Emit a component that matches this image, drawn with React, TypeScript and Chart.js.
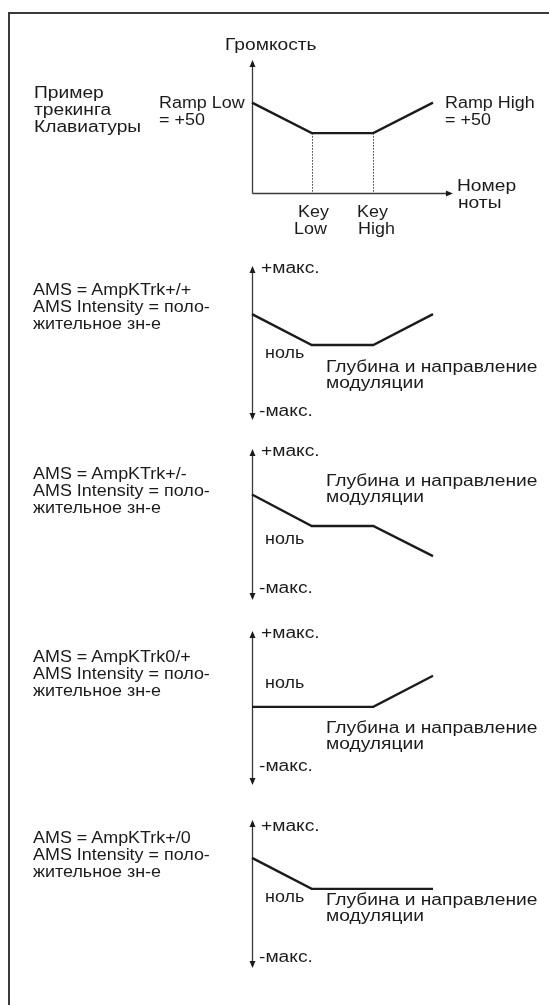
import React, { useEffect, useRef } from "react";
import { Chart, registerables } from "chart.js";

Chart.register(...registerables);

// ---------- data ----------
// key positions along the note-number axis: ramp start, Key Low, Key High, ramp end
const trackX = [0, 33, 67, 100];
const trackY = [68, 45, 45, 68]; // volume with Ramp Low = +50, Ramp High = +50

const plusPlusX = [0, 33, 67, 100];
const plusPlusY = [39, 0, 0, 39];

const plusMinusX = [0, 33, 67, 100];
const plusMinusY = [41, 0, 0, -39];

const zeroPlusX = [0, 67, 100];
const zeroPlusY = [0, 0, 41];

const plusZeroX = [0, 33, 100];
const plusZeroY = [45, 0, 0];

const keyLowX = 33;
const keyHighX = 67;

const amsNames = ["AmpKTrk+/+", "AmpKTrk+/-", "AmpKTrk0/+", "AmpKTrk+/0"];

// ---------- styles ----------
const FONT = '"Liberation Sans", Arial, Helvetica, sans-serif';
const INK = "#1b1b1b";
const AXIS = "#3a3a3a";
const W = 549;
const PLOT_L = 252;
const PLOT_R = 433;
const PAD = 10;
const BASE_SX = 1.12;
const WIDE = 1.2;

type Panel = {
  xs: number[];
  ys: number[];
  yMin: number;
  yMax: number;
  topPx: number;
  bottomPx: number;
  main?: boolean;
};

function arrow(ctx: CanvasRenderingContext2D, x: number, y: number, dir: "up" | "down" | "right") {
  const L = 7;
  const H = 3;
  ctx.beginPath();
  if (dir === "up") {
    ctx.moveTo(x, y);
    ctx.lineTo(x - H, y + L);
    ctx.lineTo(x + H, y + L);
  } else if (dir === "down") {
    ctx.moveTo(x, y);
    ctx.lineTo(x - H, y - L);
    ctx.lineTo(x + H, y - L);
  } else {
    ctx.moveTo(x, y);
    ctx.lineTo(x - L, y - H);
    ctx.lineTo(x - L, y + H);
  }
  ctx.closePath();
  ctx.fill();
}

const axesPlugin = {
  id: "arrowAxes",
  beforeDatasetsDraw(chart: any) {
    const ctx: CanvasRenderingContext2D = chart.ctx;
    const xs = chart.scales.x;
    const ys = chart.scales.y;
    const main = chart.options.plugins.arrowAxes?.main;
    ctx.save();
    ctx.strokeStyle = AXIS;
    ctx.fillStyle = INK;
    ctx.lineWidth = 1.3;
    const x0 = Math.round(xs.getPixelForValue(0)) + 0.5;
    if (main) {
      const yBase = Math.round(ys.getPixelForValue(0)) + 0.5;
      const yTop = ys.getPixelForValue(ys.max);
      const xEnd = xs.getPixelForValue(111);
      ctx.beginPath();
      ctx.moveTo(x0, yBase);
      ctx.lineTo(x0, yTop + 5);
      ctx.moveTo(x0, yBase);
      ctx.lineTo(xEnd - 5, yBase);
      ctx.stroke();
      arrow(ctx, x0, yTop, "up");
      arrow(ctx, xEnd, yBase, "right");
      // dotted guides at Key Low / Key High
      ctx.lineWidth = 1;
      ctx.setLineDash([1.5, 1.5]);
      const flat = chart.data.datasets[0].data[1].y;
      [keyLowX, keyHighX].forEach((k) => {
        const px = Math.round(xs.getPixelForValue(k)) + 0.5;
        ctx.beginPath();
        ctx.moveTo(px, ys.getPixelForValue(flat));
        ctx.lineTo(px, yBase);
        ctx.stroke();
      });
    } else {
      const yTop = ys.getPixelForValue(ys.max);
      const yBot = ys.getPixelForValue(ys.min);
      ctx.beginPath();
      ctx.moveTo(x0, yTop + 5);
      ctx.lineTo(x0, yBot - 5);
      ctx.stroke();
      arrow(ctx, x0, yTop, "up");
      arrow(ctx, x0, yBot, "down");
    }
    ctx.restore();
  },
};

function PanelChart({ p }: { p: Panel }) {
  const ref = useRef<HTMLCanvasElement>(null);
  const h = p.bottomPx - p.topPx + PAD * 2;
  useEffect(() => {
    const chart = new Chart(ref.current!, {
      type: "line",
      data: {
        datasets: [
          {
            data: p.xs.map((x, i) => ({ x, y: p.ys[i] })),
            borderColor: INK,
            borderWidth: 2.4,
            pointRadius: 0,
            tension: 0,
            fill: false,
            clip: false as any,
            borderJoinStyle: "miter",
          },
        ],
      },
      options: {
        animation: false,
        responsive: false,
        maintainAspectRatio: false,
        events: [],
        layout: { padding: { left: PLOT_L, right: W - PLOT_R, top: PAD, bottom: PAD } },
        scales: {
          x: { type: "linear", min: 0, max: 100, display: false },
          y: { type: "linear", min: p.yMin, max: p.yMax, display: false },
        },
        plugins: {
          legend: { display: false },
          tooltip: { enabled: false },
          arrowAxes: { main: !!p.main },
        } as any,
      },
      plugins: [axesPlugin],
    });
    return () => chart.destroy();
  }, []);
  return (
    <canvas
      ref={ref}
      width={W}
      height={h}
      style={{ position: "absolute", left: 0, top: p.topPx - PAD, width: W, height: h }}
    />
  );
}

function T({ x, y, sx = BASE_SX, children }: { x: number; y: number; sx?: number; children: React.ReactNode }) {
  return (
    <div
      style={{
        position: "absolute",
        left: x,
        top: y - 10,
        height: 20,
        lineHeight: "20px",
        fontSize: 16,
        fontFamily: FONT,
        color: INK,
        whiteSpace: "nowrap",
        transform: `scaleX(${sx})`,
        transformOrigin: "left center",
      }}
    >
      {children}
    </div>
  );
}

const panels: Panel[] = [
  { xs: trackX, ys: trackY, yMin: 0, yMax: 100, topPx: 60, bottomPx: 193, main: true },
  { xs: plusPlusX, ys: plusPlusY, yMin: -95, yMax: 100, topPx: 266, bottomPx: 420 },
  { xs: plusMinusX, ys: plusMinusY, yMin: -96, yMax: 100, topPx: 449, bottomPx: 600 },
  { xs: zeroPlusX, ys: zeroPlusY, yMin: -103, yMax: 100, topPx: 631, bottomPx: 785 },
  { xs: plusZeroX, ys: plusZeroY, yMin: -115, yMax: 100, topPx: 820, bottomPx: 968 },
];

// label rows: [amsY, plusMaxY, zeroY, depthY, minusMaxY]
const panelLabelY = [
  [290, 268, 353, 367, 411],
  [474, 451, 539, 481, 588],
  [657, 633, 683, 728, 766],
  [838, 826, 897, 900, 957],
];

export default function App() {
  return (
    <div
      style={{
        position: "absolute",
        left: 0,
        top: 0,
        width: W,
        height: 1005,
        overflow: "hidden",
        background: "#fff",
      }}
    >
      <div
        style={{
          position: "absolute",
          left: 8,
          top: 12,
          right: 0,
          bottom: 0,
          borderTop: `2px solid ${AXIS}`,
          borderLeft: `2px solid ${AXIS}`,
        }}
      />
      {panels.map((p, i) => (
        <PanelChart key={i} p={p} />
      ))}

      <T x={225} y={45} sx={WIDE}>Громкость</T>
      <T x={34} y={93} sx={WIDE}>Пример</T>
      <T x={34} y={110} sx={WIDE}>трекинга</T>
      <T x={34} y={127} sx={WIDE}>Клавиатуры</T>
      <T x={159} y={103}>Ramp Low</T>
      <T x={159} y={120}>= +50</T>
      <T x={445} y={103}>Ramp High</T>
      <T x={445} y={120}>= +50</T>
      <T x={457} y={186} sx={WIDE}>Номер</T>
      <T x={458} y={203} sx={WIDE}>ноты</T>
      <T x={298} y={212}>Key</T>
      <T x={294} y={229}>Low</T>
      <T x={357} y={212}>Key</T>
      <T x={358} y={229}>High</T>

      {panelLabelY.map((r, i) => (
        <React.Fragment key={i}>
          <T x={33} y={r[0]}>{`AMS = ${amsNames[i]}`}</T>
          <T x={33} y={r[0] + 17}>AMS Intensity = поло-</T>
          <T x={33} y={r[0] + 34}>жительное зн-е</T>
          <T x={261} y={r[1]} sx={WIDE}>+макс.</T>
          <T x={265} y={r[2]}>ноль</T>
          <T x={326} y={r[3]} sx={WIDE}>Глубина и направление</T>
          <T x={326} y={r[3] + 16} sx={WIDE}>модуляции</T>
          <T x={259} y={r[4]} sx={WIDE}>-макс.</T>
        </React.Fragment>
      ))}
    </div>
  );
}
